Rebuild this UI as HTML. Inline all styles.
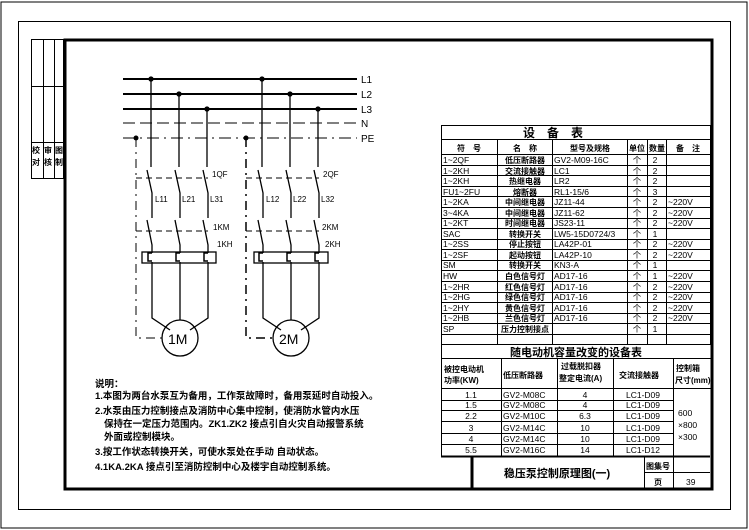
<!DOCTYPE html>
<html><head><meta charset="utf-8"><style>
html,body{margin:0;padding:0;background:#fff}
svg{display:block}
text{font-family:"Liberation Sans","Noto Sans CJK SC",sans-serif;fill:#000}
</style></head><body>
<svg width="749" height="530" viewBox="0 0 749 530" xmlns="http://www.w3.org/2000/svg">
<rect x="1" y="2" width="746" height="526" fill="none" stroke="#000" stroke-width="1"/>
<rect x="18.5" y="21.5" width="712" height="488" fill="none" stroke="#000" stroke-width="1"/>
<rect x="65" y="40" width="647" height="449" fill="none" stroke="#000" stroke-width="3"/>
<!-- left strip -->
<g stroke="#000" stroke-width="1" fill="none">
<rect x="31.5" y="39.5" width="32" height="139"/>
<line x1="43.5" y1="39.5" x2="43.5" y2="178.5"/><line x1="54.5" y1="39.5" x2="54.5" y2="178.5"/>
<line x1="31.5" y1="86.5" x2="63.5" y2="86.5"/><line x1="31.5" y1="142.5" x2="63.5" y2="142.5"/>
</g>
<g font-size="8" font-weight="bold"><text x="32" y="153">校</text><text x="32" y="165">对</text><text x="44" y="153">审</text><text x="44" y="165">核</text><text x="55" y="153">图</text><text x="55" y="165">制</text></g>

<!-- buses -->
<g stroke="#000">
<line x1="123" y1="79" x2="357" y2="79" stroke-width="2"/>
<line x1="123" y1="94" x2="357" y2="94" stroke-width="2"/>
<line x1="123" y1="109" x2="357" y2="109" stroke-width="2"/>
<line x1="123" y1="123" x2="357" y2="123" stroke-width="1" stroke-dasharray="12,5"/>
<line x1="123" y1="138" x2="357" y2="138" stroke-width="1" stroke-dasharray="12,5,2,5"/>
</g>
<g font-size="10"><text x="361" y="83">L1</text><text x="361" y="98">L2</text><text x="361" y="113">L3</text><text x="361" y="127">N</text><text x="361" y="142">PE</text></g>

<!-- motor groups -->
<g id="m1" stroke="#000" fill="none" stroke-width="1.3">
<circle cx="151" cy="79" r="2" fill="#000"/><circle cx="179" cy="94" r="2" fill="#000"/><circle cx="207" cy="109" r="2" fill="#000"/>
<path d="M151 79V167M179 94V167M207 109V167"/>
<path d="M147 170L152 193V218M175 170L180 193V218M203 170L208 193V218"/>
<path d="M147 220L152 245V253M175 220L180 245V253M203 220L208 245V253"/>
<path d="M152 262V318L170 330M180 262V320M208 262V318L190 330"/>
<circle cx="180" cy="338" r="18"/>
<rect x="142" y="252" width="74" height="11"/>
<path d="M152 253h-4v8h4M180 253h-4v8h4M208 253h-4v8h4" stroke-width="1.5"/>
<path d="M136 138V338H162" stroke-dasharray="9,5,2,5" stroke-width="1"/>
<circle cx="136" cy="138" r="2.5" fill="#000" stroke="none"/>
<path d="M136 178H208M136 231H208" stroke-dasharray="6,4" stroke-width="1"/>
</g>
<g stroke="#000" fill="none" stroke-width="1.3">
<circle cx="262" cy="79" r="2" fill="#000"/><circle cx="290" cy="94" r="2" fill="#000"/><circle cx="318" cy="109" r="2" fill="#000"/>
<path d="M262 79V167M290 94V167M318 109V167"/>
<path d="M258 170L263 193V218M286 170L291 193V218M314 170L319 193V218"/>
<path d="M258 220L263 245V253M286 220L291 245V253M314 220L319 245V253"/>
<path d="M263 262V318L281 330M291 262V320M319 262V318L301 330"/>
<circle cx="291" cy="338" r="18"/>
<rect x="254" y="252" width="74" height="11"/>
<path d="M263 253h-4v8h4M291 253h-4v8h4M319 253h-4v8h4" stroke-width="1.5"/>
<path d="M246 138V338H273" stroke-dasharray="9,5,2,5" stroke-width="1.5"/>
<circle cx="246" cy="138" r="2.5" fill="#000" stroke="none"/>
<path d="M246 178H319M246 231H319" stroke-dasharray="6,4" stroke-width="1"/>
</g>
<g font-size="14"><text x="168" y="344">1M</text><text x="279" y="344">2M</text></g>
<g font-size="8">
<text x="155" y="202">L11</text><text x="182" y="202">L21</text><text x="210" y="202">L31</text>
<text x="212" y="177">1QF</text><text x="213" y="230">1KM</text><text x="217" y="247">1KH</text>
<text x="266" y="202">L12</text><text x="293" y="202">L22</text><text x="321" y="202">L32</text>
<text x="323" y="177">2QF</text><text x="322" y="230">2KM</text><text x="325" y="247">2KH</text>
</g>

<!-- notes -->
<g font-size="9.5" font-weight="bold">
<text x="95" y="387">说明：</text>
<text x="95" y="399">1.本图为两台水泵互为备用，工作泵故障时，备用泵延时自动投入。</text>
<text x="95" y="414">2.水泵由压力控制接点及消防中心集中控制，使消防水管内水压</text>
<text x="104" y="427">保持在一定压力范围内。ZK1.ZK2 接点引自火灾自动报警系统</text>
<text x="104" y="440">外面或控制模块。</text>
<text x="95" y="455">3.按工作状态转换开关，可使水泵处在手动 自动状态。</text>
<text x="95" y="470">4.1KA.2KA 接点引至消防控制中心及楼宇自动控制系统。</text>
</g>

<!-- equipment table -->
<g stroke="#000" stroke-width="1" fill="none">
<rect x="441.5" y="125.5" width="269" height="219"/>
<line x1="441.5" y1="139.5" x2="710.5" y2="139.5"/>
<line x1="441.5" y1="154.5" x2="710.5" y2="154.5"/>
<line x1="497.5" y1="139.5" x2="497.5" y2="344.5"/>
<line x1="552.5" y1="139.5" x2="552.5" y2="344.5"/>
<line x1="627.5" y1="139.5" x2="627.5" y2="344.5"/>
<line x1="647.5" y1="139.5" x2="647.5" y2="344.5"/>
<line x1="666.5" y1="139.5" x2="666.5" y2="344.5"/>
</g>
<g stroke="#000" stroke-width="1" id="rows"></g>
<g font-size="12" font-weight="bold"><text x="553" y="137" text-anchor="middle">设　备　表</text></g>
<g font-size="8" font-weight="bold" text-anchor="middle">
<text x="469" y="151">符　号</text><text x="525" y="151">名　称</text><text x="590" y="151">型号及规格</text><text x="637" y="151">单位</text><text x="657" y="151">数量</text><text x="688" y="151">备　注</text>
</g>
<g font-size="8.5">
<text x="443" y="163">1~2QF</text><text x="443" y="174">1~2KH</text><text x="443" y="184">1~2KH</text><text x="443" y="195">FU1~2FU</text><text x="443" y="205">1~2KA</text><text x="443" y="216">3~4KA</text><text x="443" y="226">1~2KT</text><text x="443" y="237">SAC</text><text x="443" y="247">1~2SS</text><text x="443" y="258">1~2SF</text><text x="443" y="268">SM</text><text x="443" y="279">HW</text><text x="443" y="290">1~2HR</text><text x="443" y="300">1~2HG</text><text x="443" y="311">1~2HY</text><text x="443" y="321">1~2HB</text><text x="443" y="332">SP</text><text x="443" y="342"></text>
<text x="554" y="163">GV2-M09-16C</text><text x="554" y="174">LC1</text><text x="554" y="184">LR2</text><text x="554" y="195">RL1-15/6</text><text x="554" y="205">JZ11-44</text><text x="554" y="216">JZ11-62</text><text x="554" y="226">JS23-11</text><text x="554" y="237">LW5-15D0724/3</text><text x="554" y="247">LA42P-01</text><text x="554" y="258">LA42P-10</text><text x="554" y="268">KN3-A</text><text x="554" y="279">AD17-16</text><text x="554" y="290">AD17-16</text><text x="554" y="300">AD17-16</text><text x="554" y="311">AD17-16</text><text x="554" y="321">AD17-16</text>
<text x="668" y="205">~220V</text><text x="668" y="216">~220V</text><text x="668" y="226">~220V</text><text x="668" y="247">~220V</text><text x="668" y="258">~220V</text><text x="668" y="279">~220V</text><text x="668" y="290">~220V</text><text x="668" y="300">~220V</text><text x="668" y="311">~220V</text><text x="668" y="321">~220V</text>
</g>
<g font-size="8" font-weight="bold" text-anchor="middle">
<text x="525" y="163">低压断路器</text><text x="525" y="174">交流接触器</text><text x="525" y="184">热继电器</text><text x="525" y="195">熔断器</text><text x="525" y="205">中间继电器</text><text x="525" y="216">中间继电器</text><text x="525" y="226">时间继电器</text><text x="525" y="237">转换开关</text><text x="525" y="247">停止按钮</text><text x="525" y="258">起动按钮</text><text x="525" y="268">转换开关</text><text x="525" y="279">白色信号灯</text><text x="525" y="290">红色信号灯</text><text x="525" y="300">绿色信号灯</text><text x="525" y="311">黄色信号灯</text><text x="525" y="321">兰色信号灯</text><text x="525" y="332">压力控制接点</text>
</g>
<g font-size="8.5" text-anchor="middle">
<text x="637" y="163">个</text><text x="637" y="174">个</text><text x="637" y="184">个</text><text x="637" y="195">个</text><text x="637" y="205">个</text><text x="637" y="216">个</text><text x="637" y="226">个</text><text x="637" y="237">个</text><text x="637" y="247">个</text><text x="637" y="258">个</text><text x="637" y="268">个</text><text x="637" y="279">个</text><text x="637" y="290">个</text><text x="637" y="300">个</text><text x="637" y="311">个</text><text x="637" y="321">个</text><text x="637" y="332">个</text>
<text x="655" y="163">2</text><text x="655" y="174">2</text><text x="655" y="184">2</text><text x="655" y="195">3</text><text x="655" y="205">2</text><text x="655" y="216">2</text><text x="655" y="226">2</text><text x="655" y="237">1</text><text x="655" y="247">2</text><text x="655" y="258">2</text><text x="655" y="268">1</text><text x="655" y="279">1</text><text x="655" y="290">2</text><text x="655" y="300">2</text><text x="655" y="311">2</text><text x="655" y="321">2</text><text x="655" y="332">1</text>
</g>
<g stroke="#000" stroke-width="1">
<line x1="441" y1="165.5" x2="710" y2="165.5"/><line x1="441" y1="175.5" x2="710" y2="175.5"/><line x1="441" y1="186.5" x2="710" y2="186.5"/><line x1="441" y1="196.5" x2="710" y2="196.5"/><line x1="441" y1="207.5" x2="710" y2="207.5"/><line x1="441" y1="218.5" x2="710" y2="218.5"/><line x1="441" y1="228.5" x2="710" y2="228.5"/><line x1="441" y1="239.5" x2="710" y2="239.5"/><line x1="441" y1="249.5" x2="710" y2="249.5"/><line x1="441" y1="260.5" x2="710" y2="260.5"/><line x1="441" y1="270.5" x2="710" y2="270.5"/><line x1="441" y1="281.5" x2="710" y2="281.5"/><line x1="441" y1="292.5" x2="710" y2="292.5"/><line x1="441" y1="302.5" x2="710" y2="302.5"/><line x1="441" y1="313.5" x2="710" y2="313.5"/><line x1="441" y1="323.5" x2="710" y2="323.5"/><line x1="441" y1="334.5" x2="710" y2="334.5"/>
</g>

<!-- second table -->
<g stroke="#000" stroke-width="1" fill="none">
<line x1="441.5" y1="358.5" x2="710.5" y2="358.5"/>
<line x1="441.5" y1="344.5" x2="441.5" y2="456.5"/>
<line x1="441.5" y1="388.5" x2="710.5" y2="388.5"/>
<line x1="501.5" y1="358.5" x2="501.5" y2="456.5"/>
<line x1="557.5" y1="358.5" x2="557.5" y2="456.5"/>
<line x1="613.5" y1="358.5" x2="613.5" y2="456.5"/>
<line x1="673.5" y1="358.5" x2="673.5" y2="456.5"/>
<path d="M441 400.5H673M441 410.5H673M441 421.5H673M441 433.5H673M441 444.5H673"/>
<line x1="441" y1="456.5" x2="710" y2="456.5" stroke-width="2"/>
<line x1="472" y1="456" x2="472" y2="489" stroke-width="3"/>
<line x1="644.5" y1="456" x2="644.5" y2="489"/>
<line x1="673.5" y1="456" x2="673.5" y2="489"/>
<line x1="644" y1="472.5" x2="710" y2="472.5"/>
</g>
<g font-size="11" font-weight="bold"><text x="576" y="356" text-anchor="middle">随电动机容量改变的设备表</text></g>
<g font-size="8" font-weight="bold">
<text x="444" y="372">被控电动机</text><text x="444" y="383">功率(KW)</text>
<text x="503" y="378">低压断路器</text>
<text x="561" y="369">过载脱扣器</text><text x="559" y="381">整定电流(A)</text>
<text x="619" y="378">交流接触器</text>
<text x="676" y="371">控制箱</text><text x="675" y="383">尺寸(mm)</text>
</g>
<g font-size="8.5">
<text x="471" y="398" text-anchor="middle">1.1</text><text x="471" y="408" text-anchor="middle">1.5</text><text x="471" y="419" text-anchor="middle">2.2</text><text x="471" y="431" text-anchor="middle">3</text><text x="471" y="442" text-anchor="middle">4</text><text x="471" y="453" text-anchor="middle">5.5</text>
<text x="503" y="398">GV2-M08C</text><text x="503" y="408">GV2-M08C</text><text x="503" y="419">GV2-M10C</text><text x="503" y="431">GV2-M14C</text><text x="503" y="442">GV2-M14C</text><text x="503" y="453">GV2-M16C</text>
<text x="585" y="398" text-anchor="middle">4</text><text x="585" y="408" text-anchor="middle">4</text><text x="585" y="419" text-anchor="middle">6.3</text><text x="585" y="431" text-anchor="middle">10</text><text x="585" y="442" text-anchor="middle">10</text><text x="585" y="453" text-anchor="middle">14</text>
<text x="643" y="398" text-anchor="middle">LC1-D09</text><text x="643" y="408" text-anchor="middle">LC1-D09</text><text x="643" y="419" text-anchor="middle">LC1-D09</text><text x="643" y="431" text-anchor="middle">LC1-D09</text><text x="643" y="442" text-anchor="middle">LC1-D09</text><text x="643" y="453" text-anchor="middle">LC1-D12</text>
<text x="678" y="416">600</text><text x="678" y="428">×800</text><text x="678" y="440">×300</text>
<text x="686" y="485">39</text>
</g>
<g font-weight="bold"><text x="557" y="477" font-size="11" text-anchor="middle">稳压泵控制原理图(一)</text>
<text x="646" y="469" font-size="8">图集号</text><text x="654" y="485" font-size="8">页</text></g>
</svg>
</body></html>
